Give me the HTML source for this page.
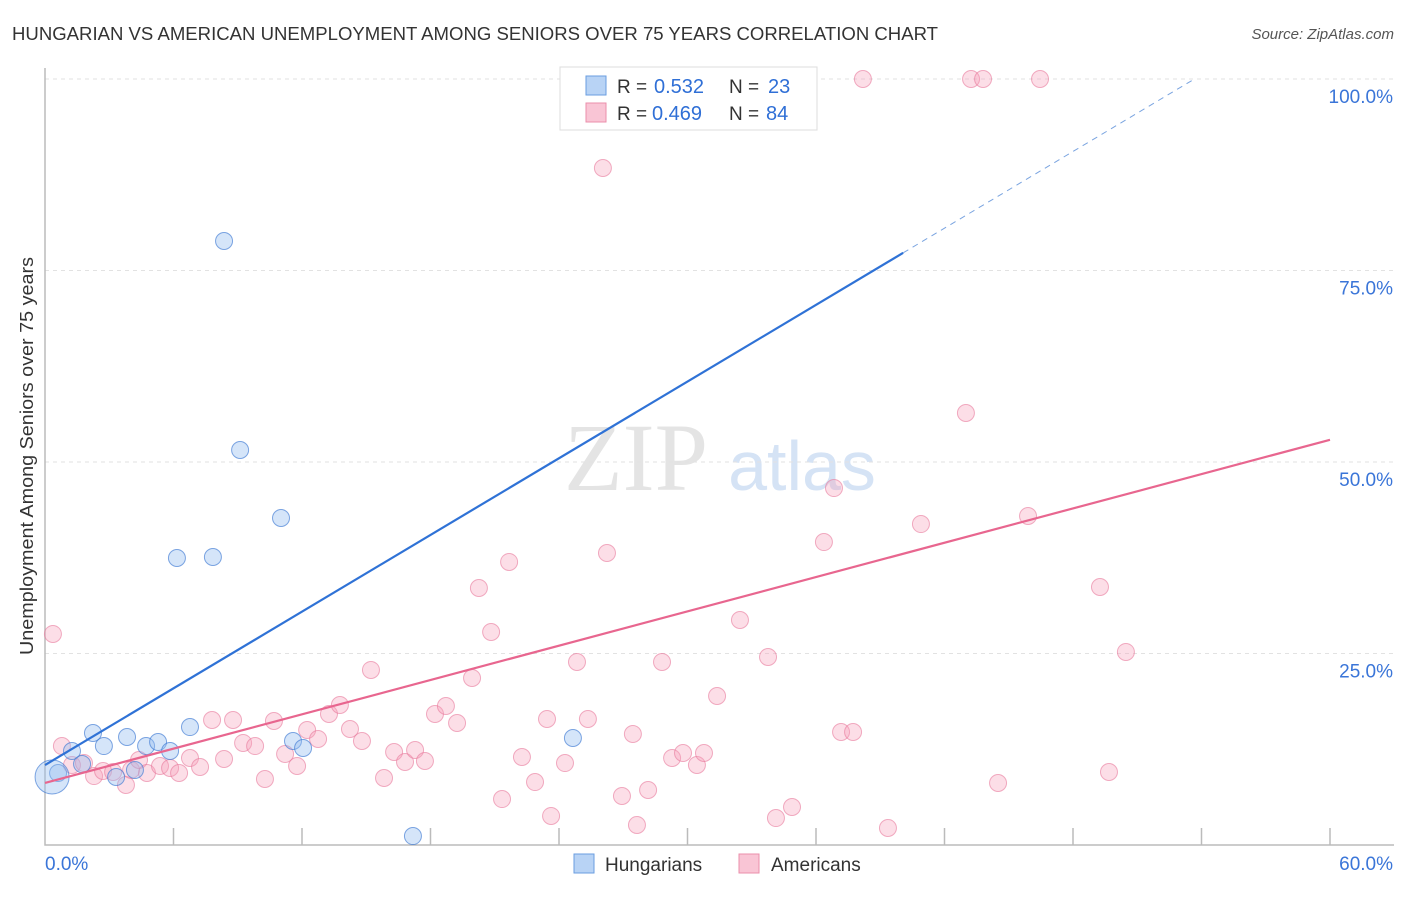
<!DOCTYPE html>
<html><head><meta charset="utf-8"><style>
body{margin:0;background:#fff;font-family:"Liberation Sans",sans-serif}
svg text{font-family:"Liberation Sans",sans-serif}
</style></head><body>
<svg id="c" width="1406" height="892" viewBox="0 0 1406 892">
<text x="12" y="40" font-size="18" fill="#333" textLength="926" lengthAdjust="spacingAndGlyphs">HUNGARIAN VS AMERICAN UNEMPLOYMENT AMONG SENIORS OVER 75 YEARS CORRELATION CHART</text>
<text x="1394" y="39" font-size="15" fill="#555" font-style="italic" text-anchor="end">Source: ZipAtlas.com</text>
<g>
<text x="636" y="490" font-size="96" fill="#e4e4e4" text-anchor="middle" font-family="Liberation Serif" style="font-family:'Liberation Serif',serif">ZIP</text>
<text x="802" y="490" font-size="70" fill="#d5e3f5" text-anchor="middle">atlas</text>
</g>
<g id="grid"></g>
<g id="axes"></g>
<g id="marks"></g>
<text transform="translate(33,456) rotate(-90)" font-size="18" fill="#333" text-anchor="middle" textLength="398" lengthAdjust="spacingAndGlyphs">Unemployment Among Seniors over 75 years</text>
<g>
<rect x="560" y="67" width="257" height="63" fill="#fff" stroke="#ddd"/>
<rect x="586" y="76" width="20" height="19" fill="#b8d3f5" stroke="#6a9ee0"/>
<rect x="586" y="103" width="20" height="19" fill="#f9c5d5" stroke="#eb8fab"/>
<text x="617" y="93" font-size="19" fill="#333">R =</text>
<text x="654" y="93" font-size="20" fill="#2f6fd6">0.532</text>
<text x="729" y="93" font-size="19" fill="#333">N =</text>
<text x="768" y="93" font-size="20" fill="#2f6fd6">23</text>
<text x="617" y="120" font-size="19" fill="#333">R =</text>
<text x="652" y="120" font-size="20" fill="#2f6fd6">0.469</text>
<text x="729" y="120" font-size="19" fill="#333">N =</text>
<text x="766" y="120" font-size="20" fill="#2f6fd6">84</text>
</g>
<g>
<rect x="574" y="854" width="20" height="19" fill="#b8d3f5" stroke="#6a9ee0"/>
<text x="605" y="871" font-size="19" fill="#333">Hungarians</text>
<rect x="739" y="854" width="20" height="19" fill="#f9c5d5" stroke="#eb8fab"/>
<text x="771" y="871" font-size="19" fill="#333">Americans</text>
</g>
</svg>
<script>
const xTicks=[0,60];
const xTickLabels=["0.0%","60.0%"];
const yTicks=[25,50,75,100];
const yTickLabels=["25.0%","50.0%","75.0%","100.0%"];
const hungX=[8.36,9.11,11.02,6.16,7.84,2.24,3.83,2.75,4.72,5.28,5.84,6.77,1.26,1.73,4.2,3.32,0.61,0.33,11.58,12.05,24.65,17.18,32.03];
const hungY=[78.85,51.57,42.69,37.47,37.6,14.62,14.1,12.92,12.92,13.45,12.27,15.4,12.27,10.57,9.79,8.88,9.4,8.88,13.58,12.66,13.97,1.17,99.87];
const hungBig=[0,0,0,0,0,0,0,0,0,0,0,0,0,0,0,0,0,1,0,0,0,0,0];
const amerX=[0.37,0.79,1.26,1.82,2.29,2.71,3.18,3.78,4.02,4.39,4.76,5.37,5.84,6.26,6.77,7.24,7.8,8.36,8.78,9.25,9.81,10.27,10.69,11.21,11.77,12.24,12.75,13.26,13.77,14.24,14.8,15.22,15.83,16.3,16.81,17.28,17.74,18.21,18.72,19.24,19.94,20.26,20.83,21.34,21.67,22.27,22.88,23.44,23.63,24.28,24.84,25.35,26.05,26.24,26.94,27.45,27.64,28.16,28.81,29.28,29.79,30.44,30.77,31.38,32.45,33.76,34.13,34.88,36.37,36.84,37.17,37.73,38.19,39.36,40.9,43.0,43.24,43.8,44.5,45.9,46.46,49.26,49.68,50.47];
const amerY=[27.55,12.92,10.44,10.7,9.0,9.66,9.53,7.83,9.79,11.1,9.4,10.31,10.05,9.4,11.36,10.18,16.32,11.23,16.32,13.32,12.92,8.62,16.19,11.88,10.31,15.01,13.84,17.1,18.28,15.14,13.58,22.85,8.75,12.14,10.84,12.4,10.97,17.1,18.15,15.93,21.8,33.55,27.81,6.0,36.95,11.49,8.22,16.45,3.79,10.7,23.89,16.45,88.38,38.12,6.4,14.49,2.61,7.18,23.89,11.36,12.01,10.44,12.01,19.45,29.37,24.54,3.52,4.96,39.55,46.6,14.75,14.75,100,2.22,41.9,56.4,100,100,8.09,42.95,100,33.68,9.53,25.2];
const hungTrend=[0,10.44,40.07,53.67];
const amerTrend=[0,8.1,60,52.9];

const NS="http://www.w3.org/2000/svg";
const sx=v=>45+v/60*1285;
const sy=v=>845-v/100*766;
function mk(tag,attrs,parent){const e=document.createElementNS(NS,tag);for(const k in attrs)e.setAttribute(k,attrs[k]);parent.appendChild(e);return e;}
const grid=document.getElementById('grid'),axes=document.getElementById('axes'),marks=document.getElementById('marks');
yTicks.forEach((t,i)=>{
 const l=mk('line',{x1:45,x2:1394,y1:sy(t),y2:sy(t),stroke:'#e2e2e2','stroke-dasharray':'4,4'},grid);
 
 
 const tx=mk('text',{x:1393,y:sy(t)+24,'font-size':19,fill:'#3a75d8','text-anchor':'end'},axes);
 tx.textContent=yTickLabels[i];
 
 
});
const ax=mk('path',{d:`M45 68 V845 H1394`,stroke:'#bbb',fill:'none','stroke-width':1.5},axes);


for(let i=1;i<=10;i++){
 const v=i*6;
 const t=mk('line',{x1:sx(v),x2:sx(v),y1:828,y2:845,stroke:'#bbb','stroke-width':1.5},axes);
 
 
}
xTicks.forEach((t,i)=>{
 const tx=mk('text',{x:i==0?sx(t):sx(t)+63,y:870,'font-size':19,fill:'#3a75d8','text-anchor':i==0?'start':'end'},axes);
 tx.textContent=xTickLabels[i];
 
 
});
amerX.forEach((x,i)=>{
 const c=mk('circle',{cx:sx(x),cy:sy(amerY[i]),r:8.5,fill:'rgba(245,160,185,0.35)',stroke:'rgba(232,120,155,0.6)','stroke-width':1},marks);
 
 
});
hungX.forEach((x,i)=>{
 const c=mk('circle',{cx:sx(x),cy:sy(hungY[i]),r:hungBig[i]?17:8.5,fill:'rgba(150,190,240,0.4)',stroke:'rgba(60,120,210,0.65)','stroke-width':1},marks);
 
 
});
const hs=(hungTrend[3]===0)?0:(100-hungTrend[1])/hungTrend[3];
const hy2=hungTrend[1]+hs*hungTrend[2];
const hl=mk('line',{x1:sx(hungTrend[0]),y1:sy(hungTrend[1]),x2:sx(hungTrend[2]),y2:sy(hy2),stroke:'#2f72d6','stroke-width':2.2},marks);


const hd=mk('line',{x1:sx(hungTrend[2]),y1:sy(hy2),x2:sx(hungTrend[3]),y2:sy(100),stroke:'#7aa4e0','stroke-width':1,'stroke-dasharray':'6,5'},marks);


const al=mk('line',{x1:sx(amerTrend[0]),y1:sy(amerTrend[1]),x2:sx(amerTrend[2]),y2:sy(amerTrend[3]),stroke:'#e8668f','stroke-width':2.2},marks);


</script>
</body></html>
